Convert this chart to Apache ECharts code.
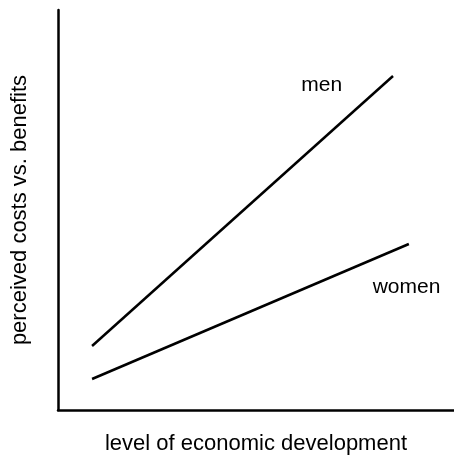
<!DOCTYPE html>
<html>
<head>
<meta charset="utf-8">
<script src="https://cdn.jsdelivr.net/npm/echarts@6/dist/echarts.min.js"></script>
<style>
  html, body { margin: 0; padding: 0; background: #fff; }
  #chart { width: 454px; height: 458px; }
</style>
</head>
<body>
<div id="chart"></div>
<script>
// x: level of development (0-100), y: perceived costs vs benefits (0-100)
var menLine = [[8.6, 16], [84.6, 83.5]]
var womenLine = [[8.6, 7.75], [88.6, 41.5]]
// where the series names sit
var menLabelAt = [66.6, 81.3]
var womenLabelAt = [88.0, 30.8]

var myChart = echarts.init(document.getElementById('chart'))
var font = 'Liberation Sans, Arial, sans-serif'

function lineSeries (name, data, labelAt) {
  return {
    name: name,
    type: 'line',
    data: data,
    symbol: 'none',
    lineStyle: { color: '#000', width: 2.5 },
    markPoint: {
      symbol: 'rect',
      symbolSize: 1,
      itemStyle: { color: 'rgba(0,0,0,0)' },
      label: {
        show: true,
        position: 'inside',
        formatter: name,
        color: '#000',
        fontSize: 21,
        fontFamily: font
      },
      data: [{ coord: labelAt }]
    }
  }
}

var option = {
  animation: false,
  grid: {
    left: 58,
    top: 10,
    right: 0,
    bottom: 48,
    outerBoundsMode: 'none'
  },
  xAxis: {
    type: 'value',
    min: 0,
    max: 100,
    name: 'level of economic development',
    nameLocation: 'middle',
    nameGap: 23,
    nameTextStyle: { color: '#000', fontSize: 22, fontFamily: font },
    axisLine: { show: true, lineStyle: { color: '#000', width: 2.5 } },
    axisTick: { show: false },
    axisLabel: { show: false },
    splitLine: { show: false }
  },
  yAxis: {
    type: 'value',
    min: 0,
    max: 100,
    name: 'perceived costs vs. benefits',
    nameLocation: 'middle',
    nameGap: 27,
    nameTextStyle: { color: '#000', fontSize: 22, fontFamily: font },
    axisLine: { show: true, lineStyle: { color: '#000', width: 2.5 } },
    axisTick: { show: false },
    axisLabel: { show: false },
    splitLine: { show: false }
  },
  series: [
    lineSeries('men', menLine, menLabelAt),
    lineSeries('women', womenLine, womenLabelAt)
  ]
}
myChart.setOption(option)
</script>
</body>
</html>
